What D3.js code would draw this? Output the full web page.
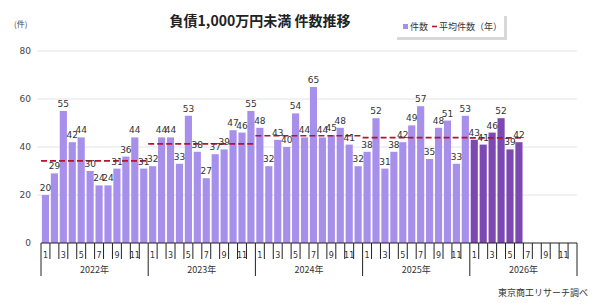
<!DOCTYPE html>
<html>
<head>
<meta charset="utf-8">
<script src="https://cdn.jsdelivr.net/npm/d3@7"></script>
<style>
  body { margin: 0; background: #fff; }
  text { font-family: "DejaVu Sans", "Noto Sans CJK JP", sans-serif; }
  .jp { font-family: "Noto Sans CJK JP", sans-serif; }
</style>
</head>
<body>
<div id="chart"></div>
<script>
// data
const years = ['2022年', '2023年', '2024年', '2025年', '2026年'];
const monthLabels = ['1', '', '3', '', '5', '', '7', '', '9', '', '11', ''];
const counts2022 = [20, 29, 55, 42, 44, 30, 24, 24, 31, 36, 44, 31];
const counts2023 = [32, 44, 44, 33, 53, 38, 27, 37, 39, 47, 46, 55];
const counts2024 = [48, 32, 43, 40, 54, 44, 65, 44, 45, 48, 41, 32];
const counts2025 = [38, 52, 31, 38, 42, 49, 57, 35, 48, 51, 33, 53];
const counts2026 = [43, 41, 46, 52, 39, 42];
const yearAvg = [34.2, 41.3, 44.7, 43.9, 43.8];
const yTicks = [0, 20, 40, 60, 80];

const seriesByYear = [counts2022, counts2023, counts2024, counts2025, counts2026];

// flat month list over the whole axis (5 years x 12 months)
const slots = [];
years.forEach((yr, yi) => {
  monthLabels.forEach((m, mi) => {
    slots.push({ key: `${yi}-${mi}`, yi, mi, label: m, value: seriesByYear[yi][mi] });
  });
});
const bars = slots.filter((d) => d.value !== undefined);

const width = 600;
const height = 308;
const plotL = 41;
const plotR = 577;
const plotT = 51;
const plotB = 243;

const svg = d3.select('#chart').append('svg')
  .attr('width', width)
  .attr('height', height);

const xScale = d3.scaleBand().range([plotL, plotR]).domain(slots.map((d) => d.key))
  .paddingInner(0.2).paddingOuter(0.1);
const yScale = d3.scaleLinear().range([plotB, plotT]).domain([0, 80]);
const step = xScale.step();
const slotLeft = (key) => xScale(key) - step * xScale.paddingInner() / 2;

// grid
svg.append('g').selectAll('line')
  .data(yTicks.filter((t) => t > 0)).enter()
  .append('line')
  .attr('x1', 37).attr('x2', plotR)
  .attr('y1', (d) => yScale(d)).attr('y2', (d) => yScale(d))
  .attr('stroke', '#e4e4e8').attr('stroke-width', 1);

// y labels
svg.append('g').selectAll('text')
  .data(yTicks).enter()
  .append('text')
  .attr('x', 31).attr('y', (d) => yScale(d) + 3)
  .attr('text-anchor', 'end')
  .attr('font-size', 9).attr('fill', '#444')
  .text((d) => d);

svg.append('text')
  .attr('class', 'jp')
  .attr('x', 14).attr('y', 27)
  .attr('font-size', 8).attr('fill', '#444')
  .text('(件)');

// bars
svg.append('g').selectAll('rect')
  .data(bars).enter()
  .append('rect')
  .attr('x', (d) => xScale(d.key))
  .attr('y', (d) => yScale(d.value))
  .attr('width', xScale.bandwidth())
  .attr('height', (d) => plotB - yScale(d.value))
  .attr('fill', (d) => (d.yi === 4 ? '#7c49b3' : '#a78fec'));

// yearly average lines
svg.append('g').selectAll('line')
  .data(yearAvg).enter()
  .append('line')
  .attr('x1', (d, i) => slotLeft(`${i}-0`))
  .attr('x2', (d, i) => slotLeft(`${i}-${seriesByYear[i].length - 1}`) + step)
  .attr('y1', (d) => yScale(d)).attr('y2', (d) => yScale(d))
  .attr('stroke', '#b4142f').attr('stroke-width', 1.6)
  .attr('stroke-dasharray', '6,3');

// value labels
svg.append('g').selectAll('text')
  .data(bars).enter()
  .append('text')
  .attr('x', (d) => xScale(d.key) + xScale.bandwidth() / 2)
  .attr('y', (d) => yScale(d.value) - 4)
  .attr('text-anchor', 'middle')
  .attr('font-size', 9).attr('fill', '#333')
  .text((d) => d.value);

// x axis
const axis = svg.append('g');
axis.append('line')
  .attr('x1', plotL).attr('x2', plotR)
  .attr('y1', plotB).attr('y2', plotB)
  .attr('stroke', '#222');
axis.selectAll('line.tick')
  .data(slots).enter()
  .append('line')
  .attr('class', 'tick')
  .attr('x1', (d) => slotLeft(d.key)).attr('x2', (d) => slotLeft(d.key))
  .attr('y1', plotB)
  .attr('y2', (d) => (d.mi === 0 ? 276 : 259))
  .attr('stroke', '#222');
axis.append('line')
  .attr('x1', plotR).attr('x2', plotR)
  .attr('y1', plotB).attr('y2', 276)
  .attr('stroke', '#222');
axis.selectAll('text.month')
  .data(slots.filter((d) => d.label)).enter()
  .append('text')
  .attr('class', 'month')
  .attr('x', (d) => xScale(d.key) + xScale.bandwidth() / 2)
  .attr('y', 258)
  .attr('text-anchor', 'middle')
  .attr('font-size', 8).attr('fill', '#333')
  .text((d) => d.label);
axis.selectAll('text.year')
  .data(years).enter()
  .append('text')
  .attr('class', 'year jp')
  .attr('x', (d, i) => slotLeft(`${i}-0`) + step * 6)
  .attr('y', 273)
  .attr('text-anchor', 'middle')
  .attr('font-size', 9).attr('fill', '#333')
  .text((d) => d);

// title
svg.append('text')
  .attr('class', 'jp')
  .attr('x', 260).attr('y', 26)
  .attr('text-anchor', 'middle')
  .attr('font-size', 14).attr('font-weight', 'bold').attr('fill', '#222')
  .text('負債1,000万円未満 件数推移');

// legend
const lg = svg.append('g').attr('transform', 'translate(395, 14)');
lg.append('rect').attr('x', 2).attr('y', 2).attr('width', 110).attr('height', 24)
  .attr('fill', '#d8d8d8');
lg.append('rect').attr('x', 0).attr('y', 0).attr('width', 109).attr('height', 23)
  .attr('fill', '#fff');
lg.append('rect').attr('x', 8).attr('y', 10).attr('width', 5).attr('height', 5)
  .attr('fill', '#a78fec');
lg.append('text').attr('class', 'jp').attr('x', 15).attr('y', 16)
  .attr('font-size', 9).attr('fill', '#333').text('件数');
lg.append('line').attr('x1', 37).attr('x2', 42).attr('y1', 12.5).attr('y2', 12.5)
  .attr('stroke', '#b4142f').attr('stroke-width', 1.6);
lg.append('text').attr('class', 'jp').attr('x', 44).attr('y', 16)
  .attr('font-size', 9).attr('fill', '#333').text('平均件数（年）');

// source
svg.append('text')
  .attr('class', 'jp')
  .attr('x', 588).attr('y', 296)
  .attr('text-anchor', 'end')
  .attr('font-size', 9).attr('fill', '#333')
  .text('東京商工リサーチ調べ');
</script>
</body>
</html>
